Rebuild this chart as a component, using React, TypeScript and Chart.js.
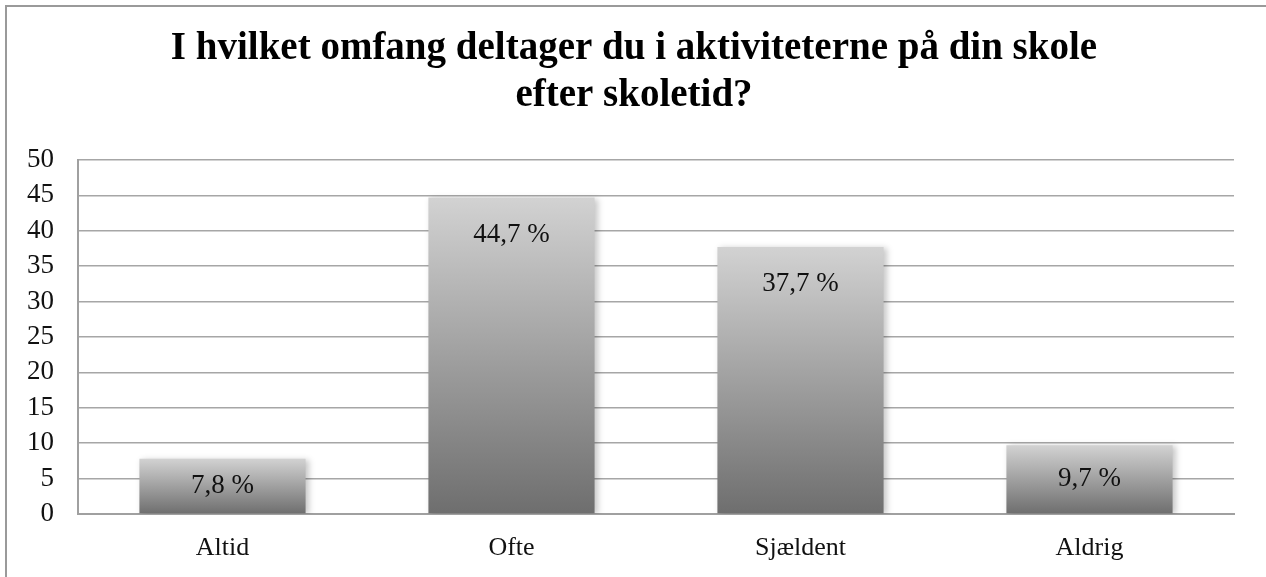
import React, { useEffect, useRef } from "react";
import { Chart, registerables } from "chart.js";

Chart.register(...registerables);

const titleLines = ["I hvilket omfang deltager du i aktiviteterne på din skole", "efter skoletid?"];
const categories = ["Altid", "Ofte", "Sjældent", "Aldrig"];
const values = [7.8, 44.7, 37.7, 9.7];
const valueLabels = ["7,8 %", "44,7 %", "37,7 %", "9,7 %"];
const yMin = 0;
const yMax = 50;
const yStep = 5;

const W = 1266;
const H = 577;

const framePlugin = {
  id: "frame",
  beforeDraw(chart: any) {
    const ctx = chart.ctx;
    ctx.save();
    ctx.fillStyle = "#ffffff";
    ctx.fillRect(0, 0, chart.width, chart.height);
    ctx.strokeStyle = "#9a9a9a";
    ctx.lineWidth = 2;
    ctx.strokeRect(6, 6, chart.width + 20, chart.height + 20);
    ctx.restore();
  },
};

const shadowPlugin = {
  id: "barShadow",
  beforeDatasetDraw(chart: any) {
    const ctx = chart.ctx;
    ctx.save();
    ctx.shadowColor = "rgba(0,0,0,0.22)";
    ctx.shadowBlur = 6;
    ctx.shadowOffsetX = 3;
    ctx.shadowOffsetY = 1;
  },
  afterDatasetDraw(chart: any) {
    chart.ctx.restore();
  },
};

const labelPlugin = {
  id: "valueLabels",
  afterDatasetsDraw(chart: any) {
    const ctx = chart.ctx;
    const meta = chart.getDatasetMeta(0);
    ctx.save();
    ctx.font = "27px 'Liberation Serif', serif";
    ctx.fillStyle = "#111111";
    ctx.textAlign = "center";
    ctx.textBaseline = "middle";
    meta.data.forEach((bar: any, i: number) => {
      const top = bar.y;
      const base = bar.base;
      const y = Math.min(top + 37, (top + base) / 2);
      ctx.fillText(valueLabels[i], bar.x, y);
    });
    ctx.restore();
  },
};

export default function App() {
  const ref = useRef<HTMLCanvasElement | null>(null);

  useEffect(() => {
    document.body.style.margin = "0";
    const canvas = ref.current;
    if (!canvas) return;
    const chart = new Chart(canvas, {
      type: "bar",
      data: {
        labels: categories,
        datasets: [
          {
            data: values,
            backgroundColor: (c: any) => {
              const ch = c.chart;
              const ys = ch.scales && ch.scales.y;
              if (!ys || c.dataIndex === undefined || !ch.chartArea) return "#a0a0a0";
              const v = values[c.dataIndex];
              const top = ys.getPixelForValue(v);
              const base = ys.getPixelForValue(0);
              if (!isFinite(top) || !isFinite(base) || top === base) return "#a0a0a0";
              const g = ch.ctx.createLinearGradient(0, top, 0, base);
              g.addColorStop(0, "#d2d2d2");
              g.addColorStop(1, "#6e6e6e");
              return g;
            },
            borderWidth: 0,
            categoryPercentage: 0.575,
            barPercentage: 1,
          },
        ],
      },
      options: {
        responsive: false,
        animation: false,
        devicePixelRatio: 1,
        layout: { padding: { top: 160, left: 0, right: 32, bottom: 0 } },
        plugins: {
          legend: { display: false },
          tooltip: { enabled: false },
          title: { display: false },
        },
        scales: {
          x: {
            grid: { display: false, drawTicks: false },
            border: { display: true, color: "#a0a0a0", width: 2 },
            ticks: {
              color: "#111111",
              font: { family: "'Liberation Serif', serif", size: 26 },
              padding: 19,
            },
            afterFit: (s: any) => {
              s.height = 63;
            },
          },
          y: {
            min: yMin,
            max: yMax,
            grid: { color: "#a6a6a6", lineWidth: 1.5, drawTicks: false },
            border: { display: true, color: "#a0a0a0", width: 2 },
            ticks: {
              stepSize: yStep,
              color: "#111111",
              font: { family: "'Liberation Serif', serif", size: 27 },
              padding: 24,
            },
            afterFit: (s: any) => {
              s.width = 78;
            },
          },
        },
      },
      plugins: [
        framePlugin,
        shadowPlugin,
        labelPlugin,
        {
          id: "titleText",
          afterDraw(chart: any) {
            const ctx = chart.ctx;
            ctx.save();
            ctx.font = "bold 39px 'Liberation Serif', serif";
            ctx.fillStyle = "#000000";
            ctx.textAlign = "center";
            ctx.textBaseline = "middle";
            titleLines.forEach((t, i) => ctx.fillText(t, 634, 49 + i * 47));
            ctx.restore();
          },
        },
      ],
    });
    return () => chart.destroy();
  }, []);

  return (
    <div style={{ width: W, height: H }}>
      <canvas ref={ref} width={W} height={H} style={{ display: "block" }} />
    </div>
  );
}
